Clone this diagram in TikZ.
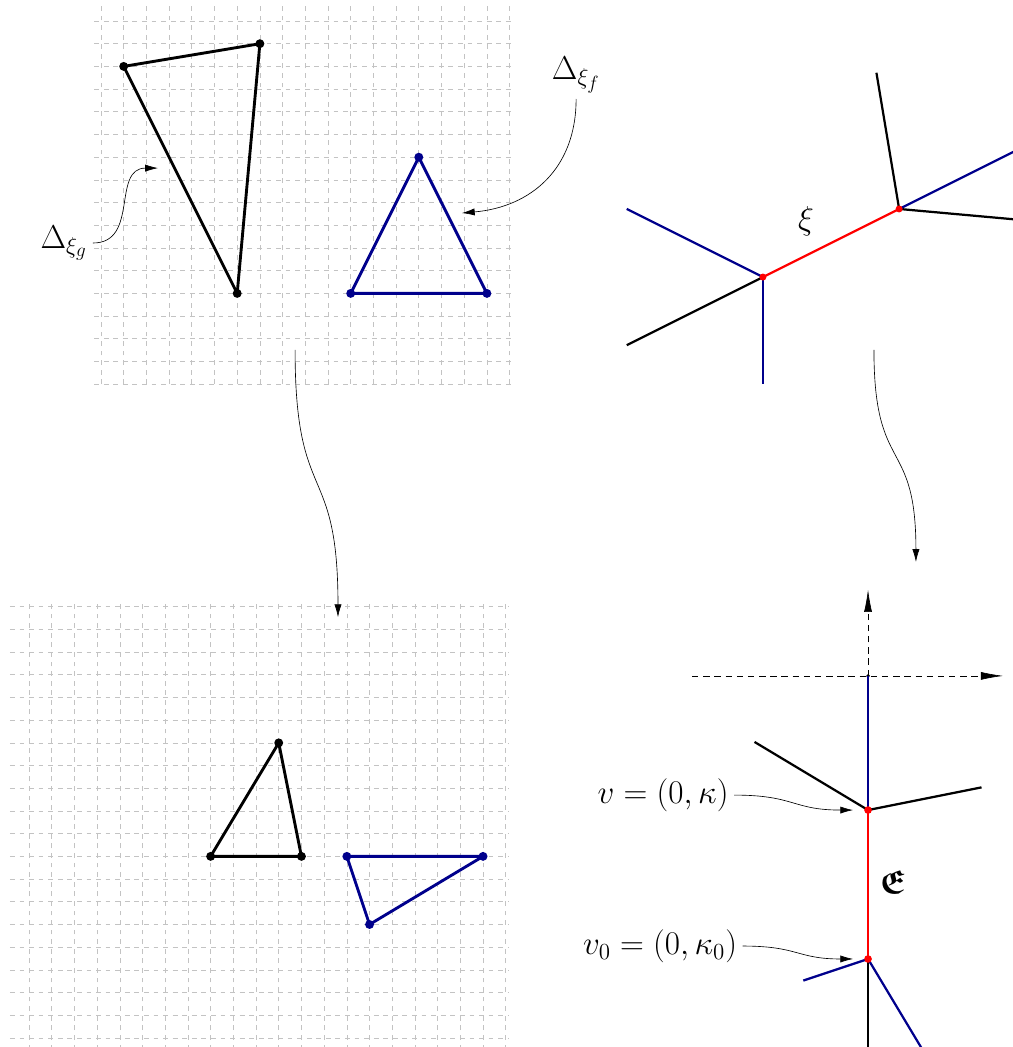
\documentclass[tikz,border=0pt]{standalone}
\usepackage{amsmath, amssymb}
\usepackage{tikz}
\usetikzlibrary{arrows.meta}
\definecolor{curveBlue}{RGB}{0,0,140}
\definecolor{gridGray}{RGB}{195,195,195}

\begin{document}
\begin{tikzpicture}[x=0.5cm, y=0.5cm, >={Latex[length=8pt,width=4.5pt]},
    poly/.style={line width=1.8pt, line join=round},
    trop/.style={line width=1.4pt},
    gridline/.style={gridGray, dashed, step=1},
    axis/.style={dash pattern=on 4pt off 3pt, -{Latex[length=14pt,width=5pt]}},
    lbl/.style={font=\huge}]
        \useasboundingbox (-4.449,0.925) rectangle (40.176,-45.198);
        % top left: the two polygons
        \draw[gridline] (-0.3,-16) grid (18.15,0.75);
        \coordinate (g1) at (1,-2);
        \coordinate (g2) at (7,-1);
        \coordinate (g3) at (6,-12);
        \coordinate (f1) at (14,-6);
        \coordinate (f2) at (11,-12);
        \coordinate (f3) at (17,-12);
        \draw[poly] (g1) -- (g2) -- (g3) -- cycle;
        \draw[poly, curveBlue] (f1) -- (f2) -- (f3) -- cycle;
        \foreach \p in {g1,g2,g3} \fill (\p) circle (2.8pt);
        \foreach \p in {f1,f2,f3} \fill[curveBlue] (\p) circle (2.8pt);
        \node[lbl] (dg) at (-1.63,-9.78) {$\Delta_{\xi_g}$};
        \node[lbl] (df) at (20.93,-2.38) {$\Delta_{\xi_f}$};
        \coordinate (dgTip) at (2.51,-6.48);
        \coordinate (dfTip) at (15.9,-8.46);
        \draw[->] (dg.east) to[out=0, in=180, looseness=1.2] (dgTip);
        \draw[->] (df.south) to[out=-90, in=5, looseness=1.1] (dfTip);
        % top right: the two curves
        \coordinate (v1) at (29.16,-11.28);
        \coordinate (v2) at (35.16,-8.28);
        \draw[trop, curveBlue] (v1) -- ++(-6,3);
        \draw[trop, curveBlue] (v1) -- ++(0,-4.7);
        \draw[trop] (v1) -- ++(-6,-3);
        \draw[trop] (v2) -- ++(-1,6);
        \draw[trop] (v2) -- ++(5.1,-0.46);
        \draw[trop, curveBlue] (v2) -- ++(5.1,2.55);
        \draw[trop, red] (v1) -- (v2);
        \fill[red] (v1) circle (2.2pt);
        \fill[red] (v2) circle (2.2pt);
        \node[lbl] (xi) at (31.06,-8.8) {$\xi$};
        % bottom left
        \begin{scope}[shift={(-3.17,-25.8)}]
            \draw[gridline] (-0.84,-19.5) grid (21.15,0.2);
            \coordinate (h1) at (11,-6);
            \coordinate (h2) at (8,-11);
            \coordinate (h3) at (12,-11);
            \coordinate (k1) at (14,-11);
            \coordinate (k2) at (20,-11);
            \coordinate (k3) at (15,-14);
            \draw[poly] (h1) -- (h2) -- (h3) -- cycle;
            \draw[poly, curveBlue] (k1) -- (k2) -- (k3) -- cycle;
            \foreach \p in {h1,h2,h3} \fill (\p) circle (2.8pt);
            \foreach \p in {k1,k2,k3} \fill[curveBlue] (\p) circle (2.8pt);
        \end{scope}
        % bottom right
        \coordinate (O) at (33.79,-28.85);
        \coordinate (v) at (33.79,-34.76);
        \coordinate (v0) at (33.79,-41.32);
        \coordinate (xEnd) at (39.74,-28.85);
        \coordinate (xStart) at (26.04,-28.85);
        \draw[axis] (xStart) -- (xEnd);
        \draw[axis] (O) -- ++(0,3.8);
        \fill (O) circle (1.2pt);
        \draw[trop, curveBlue] (O) -- (v);
        \draw[trop] (v) -- ++(-5,3);
        \draw[trop] (v) -- ++(5,1);
        \draw[trop] (v0) -- ++(0,-4);
        \draw[trop, curveBlue] (v0) -- ++(-2.85,-0.95);
        \draw[trop, curveBlue] (v0) -- ++(2.4,-4);
        \draw[trop, red] (v) -- (v0);
        \fill[red] (v) circle (2.4pt);
        \fill[red] (v0) circle (2.4pt);
        \node[lbl] (lv) at (24.76,-34.1) {$v=(0,\kappa)$};
        \node[lbl] (lv0) at (24.63,-40.75) {$v_0=(0,\kappa_0)$};
        \node[lbl] (lE) at (34.89,-37.93) {$\boldsymbol{\mathfrak{E}}$};
        \coordinate (vTip) at (33.13,-34.76);
        \coordinate (v0Tip) at (33.13,-41.32);
        \draw[->] (lv.east) to[out=0, in=180, looseness=1.3] (vTip);
        \draw[->] (lv0.east) to[out=0, in=180, looseness=1.3] (v0Tip);
        % the two maps
        \coordinate (mapA) at (8.55,-14.49);
        \coordinate (mapAEnd) at (10.44,-26.26);
        \coordinate (mapB) at (34.05,-14.49);
        \coordinate (mapBEnd) at (35.9,-23.83);
        \draw[->] (mapA) to[out=-90, in=90, looseness=1.5] (mapAEnd);
        \draw[->] (mapB) to[out=-90, in=90, looseness=1.5] (mapBEnd);
      \end{tikzpicture}
\end{document}
